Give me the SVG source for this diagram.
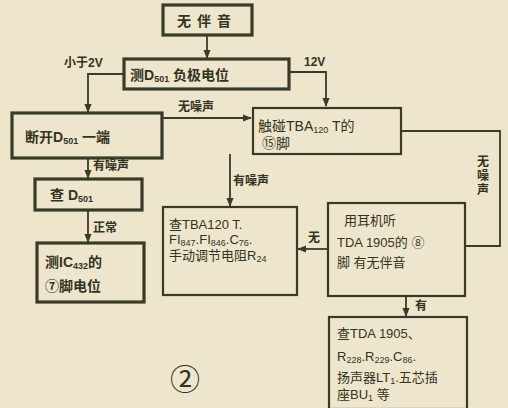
<svg xmlns="http://www.w3.org/2000/svg" width="508" height="408" viewBox="0 0 508 408">
<defs>
<marker id="ah" viewBox="0 0 10 10" refX="9" refY="5" markerWidth="5" markerHeight="5" orient="auto">
<path d="M0,1 L10,5 L0,9 z" fill="#3a3a28"/>
</marker>
<style>
.bx{fill:none;stroke:#3a3a28;stroke-width:2.2}
.bk{fill:none;stroke:#3a3a28;stroke-width:3.2}
.ln{fill:none;stroke:#3a3a28;stroke-width:1.8}
.t{font-family:"Liberation Sans","Noto Sans CJK SC",sans-serif;font-size:14px;fill:#333322;font-weight:bold}
.n{font-family:"Liberation Sans","Noto Sans CJK SC",sans-serif;font-size:13px;fill:#333322;font-weight:normal}
.m{font-family:"Liberation Sans","Noto Sans CJK SC",sans-serif;font-size:14px;fill:#333322;font-weight:normal}
.s{font-size:9px}
.l{font-family:"Liberation Sans","Noto Sans CJK SC",sans-serif;font-size:12px;fill:#333322;font-weight:bold}
.fig{font-family:"Noto Sans CJK SC",sans-serif;font-size:30px;fill:#333322}
</style>
</defs>
<rect width="508" height="408" fill="#eee6cc"/>
<g id="connectors">
<path class="ln" d="M207,35 V58" marker-end="url(#ah)"/>
<path class="ln" d="M124,74 H88 V112" marker-end="url(#ah)"/>
<path class="ln" d="M289,72 H326 V106" marker-end="url(#ah)"/>
<path class="ln" d="M162,118 H251" marker-end="url(#ah)"/>
<path class="ln" d="M88,158 V178" marker-end="url(#ah)"/>
<path class="ln" d="M88,210 V242" marker-end="url(#ah)"/>
<path class="ln" d="M230,154 V206" marker-end="url(#ah)"/>
<path class="ln" d="M401,131 H500 V246 H466"/>
<path class="ln" d="M328,249 H298" marker-end="url(#ah)"/>
<path class="ln" d="M406,296 V316" marker-end="url(#ah)"/>
<text class="l" x="64" y="67">小于2V</text>
<text class="l" x="304" y="66">12V</text>
<text class="l" x="178" y="111">无噪声</text>
<text class="l" x="93" y="170">有噪声</text>
<text class="l" x="93" y="232">正常</text>
<text class="l" x="233" y="185">有噪声</text>
<text class="l" x="308" y="242">无</text>
<text class="l" x="415" y="310">有</text>
<text class="l" x="477" y="166">无</text>
<text class="l" x="477" y="180">噪</text>
<text class="l" x="477" y="194">声</text>
</g>
<g id="n1"><rect class="bk" x="163" y="5" width="89" height="30"/><text class="t" x="207" y="26" text-anchor="middle" letter-spacing="6">无伴音</text></g>
<g id="n2"><rect class="bk" x="124" y="59" width="165" height="30"/><text class="t" x="130" y="80">测D<tspan class="s" dy="2">501</tspan><tspan dy="-2"> 负极电位</tspan></text></g>
<g id="n3"><rect class="bk" x="12" y="113" width="150" height="45"/><text class="t" x="25" y="142">断开D<tspan class="s" dy="2">501</tspan><tspan dy="-2"> 一端</tspan></text></g>
<g id="n4"><rect class="bx" x="253" y="108" width="148" height="46"/><text class="m" x="258" y="131">触碰TBA<tspan class="s" dy="2">120</tspan><tspan dy="-2"> T的</tspan></text><text class="m" x="262" y="148">⑮脚</text></g>
<g id="n5"><rect class="bk" x="35" y="179" width="107" height="31"/><text class="t" x="50" y="200">查 D<tspan class="s" dy="2">501</tspan></text></g>
<g id="n6"><rect class="bk" x="37" y="243" width="107" height="59"/><text class="t" x="45" y="267">测IC<tspan class="s" dy="2">432</tspan><tspan dy="-2">的</tspan></text><text class="t" x="45" y="291">⑦脚电位</text></g>
<g id="n7"><rect class="bx" x="163" y="207" width="134" height="88"/><text class="n" x="169" y="229">查TBA120 T.</text><text class="n" x="169" y="244">FI<tspan class="s" dy="2">847</tspan><tspan dy="-2">.FI</tspan><tspan class="s" dy="2">846</tspan><tspan dy="-2">.C</tspan><tspan class="s" dy="2">76</tspan><tspan dy="-2">.</tspan></text><text class="n" x="169" y="260">手动调节电阻R<tspan class="s" dy="2">24</tspan></text></g>
<g id="n8"><rect class="bx" x="328" y="203" width="137" height="93"/><text class="n" x="344" y="225">用耳机听</text><text class="n" x="337" y="247">TDA 1905的 ⑧</text><text class="n" x="337" y="267">脚 有无伴音</text></g>
<g id="n9"><rect class="bx" x="329" y="317" width="138" height="92"/><text class="n" x="337" y="338">查TDA 1905、</text><text class="n" x="337" y="361">R<tspan class="s" dy="2">228</tspan><tspan dy="-2">.R</tspan><tspan class="s" dy="2">229</tspan><tspan dy="-2">.C</tspan><tspan class="s" dy="2">86</tspan><tspan dy="-2">.</tspan></text><text class="n" x="337" y="382">扬声器LT<tspan class="s" dy="2">1</tspan><tspan dy="-2">.五芯插</tspan></text><text class="n" x="337" y="399">座BU<tspan class="s" dy="2">1</tspan><tspan dy="-2"> 等</tspan></text></g>
<g id="fig"><text class="fig" x="185" y="390" text-anchor="middle">②</text></g>
</svg>
